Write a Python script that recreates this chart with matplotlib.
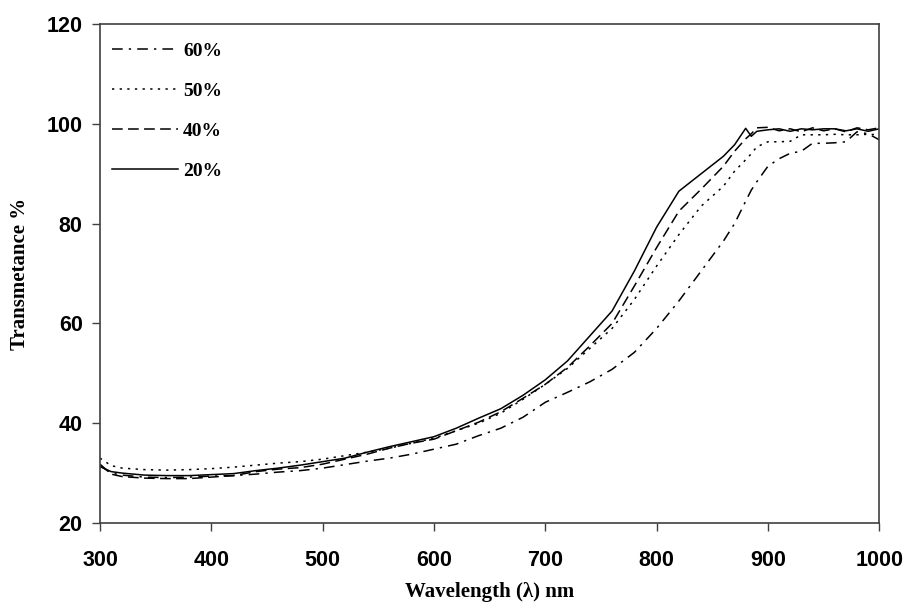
import matplotlib
matplotlib.use("Agg")
import matplotlib.pyplot as plt

# Wavelength grid (nm) and transmittance (%)
wl = [300, 310, 320, 340, 360, 380, 400, 420, 440, 460, 480, 500, 520, 540, 560,
      580, 600, 620, 640, 660, 680, 700, 720, 740, 760, 780, 800, 820, 840, 860,
      870, 880, 885, 890, 900, 910, 920, 930, 940, 950, 960, 970, 980, 990, 1000]

t20 = [31.3, 30.3, 30.0, 29.6, 29.5, 29.5, 29.7, 29.9, 30.5, 31.0, 31.6, 32.3, 33.0, 34.2, 35.3,
       36.3, 37.3, 39.0, 41.0, 42.9, 45.6, 48.7, 52.5, 57.5, 62.5, 70.5, 79.3, 86.5, 90.0, 93.5,
       95.8, 99.1, 97.5, 98.5, 98.8, 99.0, 98.5, 99.0, 98.8, 99.0, 99.0, 98.6, 99.0, 98.5, 99.0]

t40 = [31.8, 29.8, 29.3, 29.0, 28.9, 28.9, 29.2, 29.5, 30.3, 30.8, 31.1, 31.8, 32.8, 33.8, 35.0,
       36.0, 36.8, 38.5, 40.2, 42.3, 45.0, 47.8, 51.2, 55.5, 60.0, 67.5, 75.2, 82.5, 86.9, 91.5,
       94.5, 97.0, 98.0, 99.2, 99.3, 98.6, 99.0, 98.4, 99.2, 98.6, 99.0, 98.4, 99.2, 98.8, 99.2]

t50 = [33.0, 31.5, 31.0, 30.7, 30.6, 30.7, 30.9, 31.2, 31.6, 32.0, 32.3, 32.8, 33.5, 34.2, 35.0,
       36.0, 37.0, 38.5, 40.0, 42.0, 44.8, 47.8, 51.0, 55.0, 59.0, 64.8, 71.5, 77.8, 83.5, 87.5,
       90.5, 92.8, 94.0, 95.4, 96.4, 96.4, 96.5, 97.8, 97.8, 97.8, 97.9, 97.8, 97.8, 97.9, 97.8]

t60 = [31.5, 30.0, 29.6, 29.2, 29.1, 29.2, 29.4, 29.5, 29.8, 30.2, 30.5, 31.0, 31.7, 32.4, 33.0,
       33.8, 34.8, 35.8, 37.5, 39.0, 41.2, 44.2, 46.2, 48.3, 50.8, 54.2, 59.0, 64.5, 70.5, 76.5,
       80.0, 84.5, 86.7, 88.4, 91.5, 93.0, 94.1, 94.5, 96.1, 96.1, 96.2, 96.4, 98.4, 98.0, 96.8]

labels = ["60%", "50%", "40%", "20%"]

fig = plt.figure(figsize=(9.06, 6.13), dpi=100)
ax = fig.add_axes([0.1104, 0.1468, 0.8601, 0.8140])

lw = 1.1
ax.plot(wl, t60, color="black", lw=lw, dashes=(7, 4, 1.5, 4), label=labels[0])
ax.plot(wl, t50, color="black", lw=lw, dashes=(1.5, 3.5), label=labels[1])
ax.plot(wl, t40, color="black", lw=lw, dashes=(7, 3.5), label=labels[2])
ax.plot(wl, t20, color="black", lw=lw, label=labels[3])

ax.set_xlim(300, 1000)
ax.set_ylim(20, 120)
ax.set_xticks(range(300, 1001, 100))
ax.set_yticks(range(20, 121, 20))

for s in ax.spines.values():
    s.set_color("#404040")
    s.set_linewidth(1.2)

ax.tick_params(direction="out", length=5.5, width=1, color="#404040")
ax.tick_params(axis="x", pad=14)
ax.tick_params(axis="y", pad=7)
for lab in ax.get_xticklabels() + ax.get_yticklabels():
    lab.set_fontfamily("Liberation Sans")
    lab.set_fontweight("bold")
    lab.set_fontsize(15.5)

ax.set_xlabel("Wavelength (λ) nm", fontfamily="Liberation Serif", fontweight="bold",
              fontsize=15, labelpad=8)
ax.set_ylabel("Transmetance %", fontfamily="Liberation Serif", fontweight="bold",
              fontsize=15, labelpad=12)

leg = ax.legend(loc="upper left", bbox_to_anchor=(112 / 906, 1 - 42 / 613),
                bbox_transform=fig.transFigure, frameon=False, borderpad=0,
                borderaxespad=0, handlelength=3.4, handletextpad=0.25, labelspacing=1.15,
                prop={"family": "Liberation Serif", "weight": "bold", "size": 14})

plt.savefig("out.png", dpi=100)
